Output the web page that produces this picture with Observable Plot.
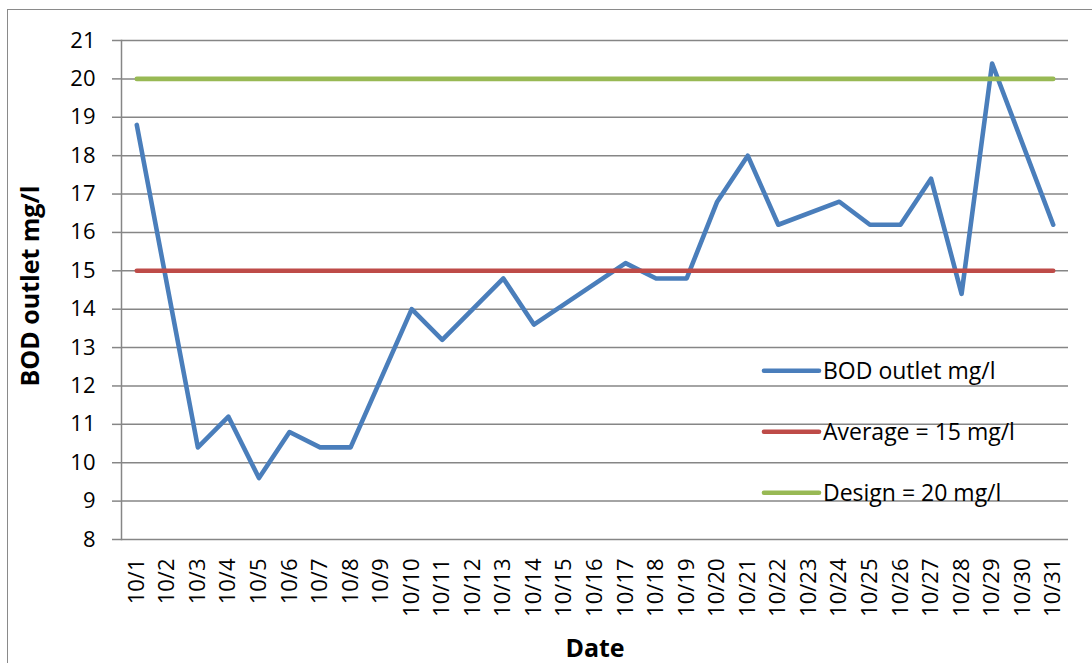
<!DOCTYPE html>
<html>
<head>
<meta charset="utf-8">
<script src="https://cdn.jsdelivr.net/npm/d3@7"></script>
<script src="https://cdn.jsdelivr.net/npm/@observablehq/plot@0.6"></script>
<style>
  html, body { margin: 0; padding: 0; background: #fff; overflow: hidden; width: 1092px; height: 663px; }
  #wrap { position: relative; width: 1092px; height: 663px; }
  #border { position: absolute; left: 7px; top: 9px; width: 2000px; height: 2000px; border: 1.5px solid #8a8a8a; box-sizing: border-box; }
  #chart { position: absolute; left: 0; top: 0; }
  #legend { position: absolute; left: 0; top: 0; pointer-events: none; }
  #chart g[aria-label="y-axis tick"] { stroke: #868686; stroke-width: 1.5px; }
  #chart g[aria-label="x-axis tick"] { display: none; }
</style>
</head>
<body>
<div id="wrap">
  <div id="border"></div>
  <div id="chart"></div>
  <svg id="legend" width="1092" height="663"></svg>
</div>
<script>
// Daily BOD readings at the outlet for October; null = no sample that day
const dates = ["10/1","10/2","10/3","10/4","10/5","10/6","10/7","10/8","10/9","10/10",
  "10/11","10/12","10/13","10/14","10/15","10/16","10/17","10/18","10/19","10/20",
  "10/21","10/22","10/23","10/24","10/25","10/26","10/27","10/28","10/29","10/30","10/31"];
const bod = [18.8, null, 10.4, 11.2, 9.6, 10.8, 10.4, 10.4, null, 14.0,
  13.2, null, 14.8, 13.6, null, null, 15.2, 14.8, 14.8, 16.8,
  18.0, 16.2, null, 16.8, 16.2, 16.2, 17.4, 14.4, 20.4, null, 16.2];
const averageLevel = 15;
const designLevel = 20;
const yTicks = [8, 9, 10, 11, 12, 13, 14, 15, 16, 17, 18, 19, 20, 21];

const seriesNames = ["BOD outlet mg/l", "Average = 15 mg/l", "Design = 20 mg/l"];
const seriesColors = ["#4a7ebb", "#be4b48", "#98b954"];

// Sampled days only; the line joins across days without a reading
const samples = dates.map((date, i) => ({date, value: bod[i]})).filter(d => d.value != null);

const lineStyle = {strokeWidth: 4.6, strokeLinecap: "round", strokeLinejoin: "round"};

const chart = Plot.plot({
  width: 1092,
  height: 663,
  marginLeft: 121,
  marginRight: 24,
  marginTop: 40,
  marginBottom: 124,
  style: {fontFamily: "'Open Sans', sans-serif", fontSize: "22px", color: "#000", background: "transparent", overflow: "visible"},
  x: {type: "point", domain: dates, padding: 0.5, round: false, axis: null},
  y: {domain: [8, 21], axis: null},
  marks: [
    Plot.ruleY(yTicks, {stroke: "#868686", strokeWidth: 1.5}),
    Plot.frame({anchor: "left", stroke: "#868686", strokeWidth: 1.5}),
    Plot.axisY({ticks: yTicks, tickSize: 9, tickPadding: 17, label: null}),
    Plot.axisX({tickSize: 0, tickRotate: -90, tickPadding: 19, label: null}),
    Plot.line(samples, {x: "date", y: "value", stroke: seriesColors[0], ...lineStyle}),
    Plot.line(dates, {x: d => d, y: () => averageLevel, stroke: seriesColors[1], ...lineStyle}),
    Plot.line(dates, {x: d => d, y: () => designLevel, stroke: seriesColors[2], ...lineStyle}),
    Plot.text(["BOD outlet mg/l"], {text: d => d, frameAnchor: "left", textAnchor: "middle", lineAnchor: "middle", dx: -91, dy: -4, rotate: -90, fontWeight: "bold", fontSize: 25}),
    Plot.text(["Date"], {text: d => d, frameAnchor: "bottom", textAnchor: "middle", lineAnchor: "middle", dy: 109, fontWeight: "bold", fontSize: 25})
  ]
});
document.getElementById("chart").appendChild(chart);

// Legend block inside the plot area, lower right
const legend = d3.select("#legend");
const rows = legend.selectAll("g").data(seriesNames).join("g")
  .attr("transform", (d, i) => `translate(764,${370.7 + i * 61})`);
rows.append("line")
  .attr("x1", 0).attr("x2", 55).attr("y1", 0).attr("y2", 0)
  .attr("stroke", (d, i) => seriesColors[i])
  .attr("stroke-width", 4.6)
  .attr("stroke-linecap", "round");
rows.append("text")
  .attr("x", 59).attr("y", 8.3)
  .attr("font-family", "'Open Sans', sans-serif")
  .attr("font-size", 23)
  .attr("fill", "#000")
  .text(d => d);
</script>
</body>
</html>
